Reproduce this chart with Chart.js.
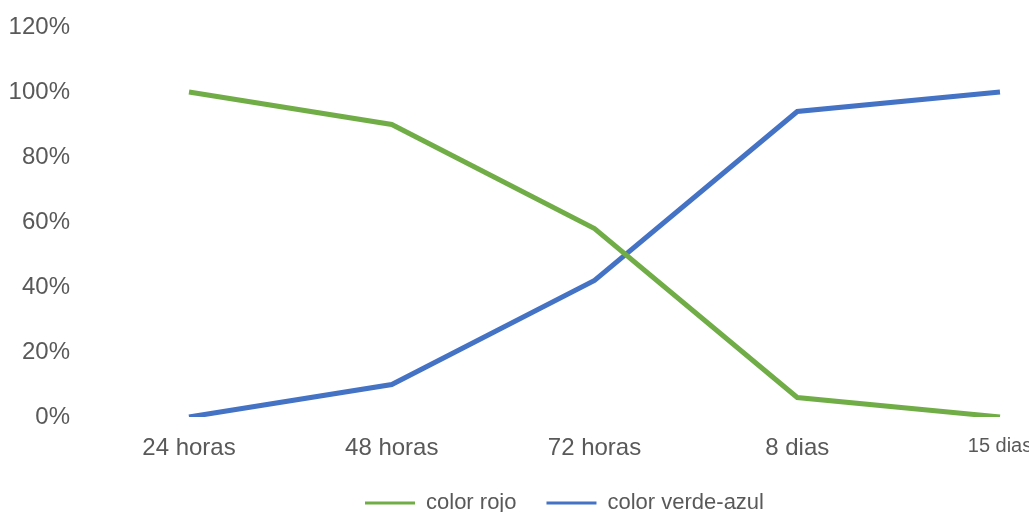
<!DOCTYPE html>
<html lang="es">
<head>
    <meta charset="UTF-8">
    <title>color rojo / color verde-azul</title>
    <script src="https://cdn.jsdelivr.net/npm/chart.js"></script>
    <style>
        body {
            margin: 0;
            background: #fff;
        }
        #wrap {
            width: 1029px;
            height: 512px;
        }
    </style>
</head>
<body>
    <div id="wrap"><canvas id="myChart"></canvas></div>

    <script>
        // datos (en %)
        const categorias = ['24 horas', '48 horas', '72 horas', '8 dias', '15 dias'];
        const colorRojo = [100, 90, 58, 6, 0];
        const colorVerdeAzul = [0, 10, 42, 94, 100];
        const ticksY = [0, 20, 40, 60, 80, 100, 120];

        const textColor = '#595959';
        const ctx = document.getElementById('myChart').getContext('2d');

        // la leyenda del original esta algo desplazada a la derecha
        const moverLeyenda = {
            id: 'moverLeyenda',
            afterLayout(chart) {
                chart.legend.left += 60;
                chart.legend.right += 60;
            }
        };

        new Chart(ctx, {
            type: 'line',
            data: {
                labels: categorias,
                datasets: [{
                    label: 'color rojo',
                    data: colorRojo,
                    borderColor: '#70AD47',
                    backgroundColor: '#70AD47',
                    borderWidth: 5,
                    pointRadius: 0,
                    tension: 0
                }, {
                    label: 'color verde-azul',
                    data: colorVerdeAzul,
                    borderColor: '#4472C4',
                    backgroundColor: '#4472C4',
                    borderWidth: 5,
                    pointRadius: 0,
                    tension: 0
                }]
            },
            plugins: [moverLeyenda],
            options: {
                responsive: true,
                maintainAspectRatio: false,
                animation: false,
                layout: {
                    padding: { left: 9, right: 29, top: 27, bottom: -12 }
                },
                plugins: {
                    tooltip: { enabled: false },
                    legend: {
                        position: 'bottom',
                        labels: {
                            color: textColor,
                            boxWidth: 50,
                            boxHeight: 3,
                            padding: 30,
                            font: { family: 'Liberation Sans', size: 22 },
                            generateLabels(chart) {
                                const items = Chart.defaults.plugins.legend.labels.generateLabels(chart);
                                items.forEach(it => { it.lineWidth = 0; });
                                return items;
                            }
                        }
                    }
                },
                scales: {
                    x: {
                        offset: false,
                        clip: false,
                        grid: { display: false, drawTicks: false },
                        border: { display: false },
                        afterFit(axis) {
                            axis.height = 45;
                            axis.paddingLeft = 0;
                            axis.paddingRight = 0;
                        },
                        ticks: {
                            color: textColor,
                            padding: 17,
                            maxRotation: 0,
                            autoSkip: false,
                            font: c => ({
                                family: 'Liberation Sans',
                                size: c.index === categorias.length - 1 ? 20 : 24
                            })
                        }
                    },
                    y: {
                        min: ticksY[0],
                        max: ticksY[ticksY.length - 1],
                        grid: { display: false, drawTicks: false },
                        border: { display: false },
                        afterBuildTicks(axis) {
                            axis.ticks = ticksY.map(v => ({ value: v }));
                        },
                        afterFit(axis) {
                            axis.width = 180;
                            axis.paddingTop = 0;
                            axis.paddingBottom = 0;
                        },
                        ticks: {
                            color: textColor,
                            padding: 119,
                            font: { family: 'Liberation Sans', size: 24 },
                            callback: v => v + '%'
                        }
                    }
                }
            }
        });
    </script>
</body>
</html>
